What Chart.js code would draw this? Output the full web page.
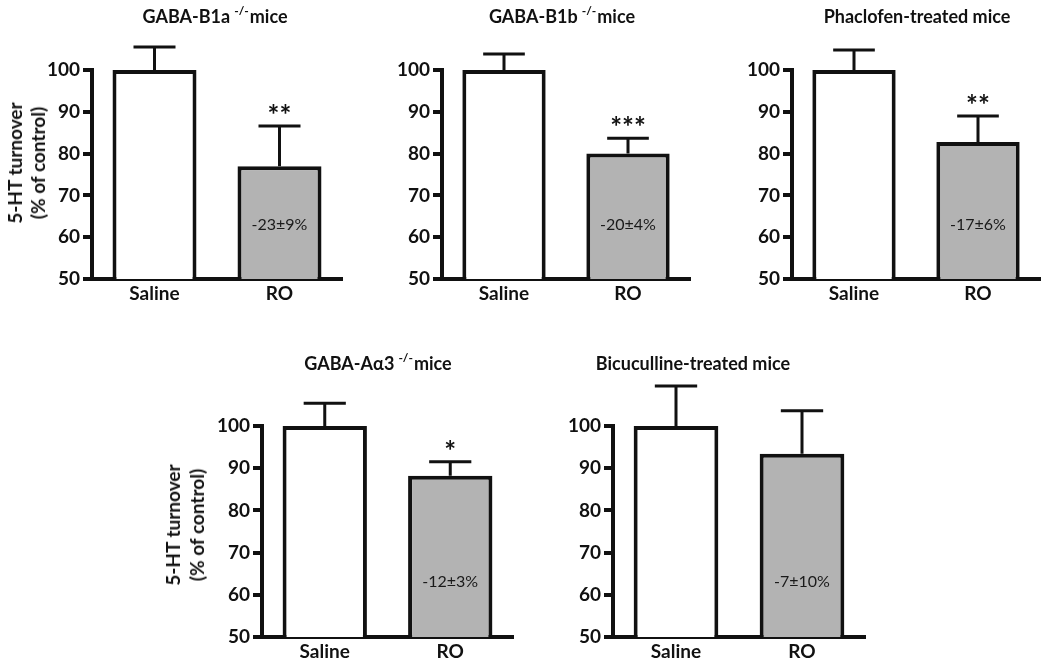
<!DOCTYPE html>
<html>
<head>
<meta charset="utf-8">
<script src="https://cdn.jsdelivr.net/npm/chart.js@4.4.1/dist/chart.umd.min.js"></script>
<style>
  html, body { margin:0; padding:0; background:#fff; }
  #fig { position:relative; width:1050px; height:664px; background:#fff; font-family:Lato, 'Open Sans', sans-serif; color:#111; }
  .panel { position:absolute; }
  .title { position:absolute; transform:translate(-50%,-50%); font-weight:bold; font-size:18px; white-space:nowrap; }
  .title sup { font-size:12px; vertical-align:0; position:relative; top:-8px; margin:0 1px 0 4px; }
  .ylab { position:absolute; transform:translate(-50%,-50%) rotate(-90deg); font-weight:bold; font-size:19px; text-align:center; white-space:nowrap; }
</style>
</head>
<body>
<div id="fig"></div>
<script>
// ---- data ----
const groups = ['Saline', 'RO'];
const titleMain = ['GABA-B1a', 'GABA-B1b', 'Phaclofen-treated mice', 'GABA-A\u03b13', 'Bicuculline-treated mice'];
const titleSup = ['-/-', '-/-', '', '-/-', ''];
const titleTail = ['mice', 'mice', '', 'mice', ''];
const salineMean = [100, 100, 100, 100, 100];
const salineSem = [5.5, 3.8, 4.8, 5.4, 9.5];
const roMean = [77, 80, 82.8, 88.2, 93.4];
const roSem = [9.6, 3.7, 6.2, 3.3, 10.2];
const stars = ['**', '***', '**', '*', ''];
const changeText = ['-23\u00b19%', '-20\u00b14%', '-17\u00b16%', '-12\u00b13%', '-7\u00b110%'];
const yLabelLines = ['5-HT turnover', '(% of control)'];

// ---- layout (canvas boxes) ----
const layout = [
  {left:0,   top:0,   w:350, h:310, padTop:70, padRight:8,  xH:31, titleX:215, titleY:16,  ylab:{x:26, y:163, lh:23}},
  {left:350, top:0,   w:350, h:310, padTop:70, padRight:10, xH:31, titleX:562, titleY:16},
  {left:700, top:0,   w:350, h:310, padTop:70, padRight:10, xH:31, titleX:917, titleY:16},
  {left:170, top:360, w:350, h:304, padTop:66, padRight:7,  xH:27, titleX:378, titleY:363, ylab:{x:185, y:525, lh:24}},
  {left:521, top:360, w:350, h:304, padTop:66, padRight:6,  xH:27, titleX:693, titleY:363}
];

const ink = '#111';
const tickFont = {family:'Lato', size:19, weight:'bold'};

// error bars, significance stars and % change text
const annotate = {
  id: 'annotate',
  afterDatasetsDraw(chart, args, opts){
    const ctx = chart.ctx;
    const y = chart.scales.y;
    const bars = chart.getDatasetMeta(0).data;
    const means = chart.data.datasets[0].data;
    ctx.save();
    ctx.strokeStyle = ink;
    ctx.lineWidth = 3;
    bars.forEach((bar, j) => {
      const top = y.getPixelForValue(means[j]);
      const tip = y.getPixelForValue(means[j] + opts.sem[j]);
      const half = bar.width / 4;
      ctx.beginPath();
      ctx.moveTo(bar.x, top); ctx.lineTo(bar.x, tip);
      ctx.moveTo(bar.x - half, tip); ctx.lineTo(bar.x + half, tip);
      ctx.stroke();
    });
    const ro = bars[1];
    const roTip = y.getPixelForValue(means[1] + opts.sem[1]);
    ctx.fillStyle = ink;
    ctx.textAlign = 'center';
    if(opts.stars){
      ctx.font = 'bold 28px Lato';
      ctx.textBaseline = 'alphabetic';
      ctx.fillText(opts.stars, ro.x, roTip - 1);
    }
    ctx.font = '16px Lato';
    ctx.fillStyle = '#1a1a1a';
    ctx.textBaseline = 'middle';
    ctx.fillText(opts.change, ro.x, y.getPixelForValue(63));
    ctx.restore();
  }
};

const fig = document.getElementById('fig');

layout.forEach((p, i) => {
  const box = document.createElement('div');
  box.className = 'panel';
  box.style.left = p.left + 'px';
  box.style.top = p.top + 'px';
  const cv = document.createElement('canvas');
  cv.width = p.w; cv.height = p.h;
  cv.style.width = p.w + 'px'; cv.style.height = p.h + 'px';
  box.appendChild(cv);
  fig.appendChild(box);

  const t = document.createElement('div');
  t.className = 'title';
  t.style.left = p.titleX + 'px';
  t.style.top = p.titleY + 'px';
  t.innerHTML = titleMain[i] + (titleSup[i] ? '<sup>' + titleSup[i] + '</sup>' + titleTail[i] : '');
  fig.appendChild(t);

  if(p.ylab){
    const yl = document.createElement('div');
    yl.className = 'ylab';
    yl.style.left = p.ylab.x + 'px';
    yl.style.top = p.ylab.y + 'px';
    yl.style.lineHeight = p.ylab.lh + 'px';
    yl.innerHTML = yLabelLines.join('<br>');
    fig.appendChild(yl);
  }

  new Chart(cv.getContext('2d'), {
    type: 'bar',
    data: {
      labels: groups,
      datasets: [{
        data: [salineMean[i], roMean[i]],
        backgroundColor: ['#ffffff', '#b3b3b3'],
        borderColor: ink,
        borderWidth: 4,
        borderSkipped: false,
        barPercentage: 0.672,
        categoryPercentage: 1
      }]
    },
    options: {
      responsive: false,
      animation: false,
      layout: { padding: { top: p.padTop, right: p.padRight, left: 0, bottom: 0 } },
      plugins: {
        legend: { display: false },
        tooltip: { enabled: false },
        annotate: { sem: [salineSem[i], roSem[i]], stars: stars[i], change: changeText[i] }
      },
      scales: {
        x: {
          grid: { display: false, drawTicks: false },
          border: { display: true, width: 4, color: ink },
          ticks: { color: ink, font: tickFont, padding: 3 },
          afterFit(s){ s.height = p.xH; }
        },
        y: {
          min: 50, max: 100,
          ticks: { stepSize: 10, color: ink, font: tickFont, padding: 3 },
          grid: { drawOnChartArea: false, drawTicks: true, tickLength: 9, lineWidth: 4, color: ink },
          border: { width: 4, color: ink },
          afterFit(s){ s.width = 92; }
        }
      }
    },
    plugins: [annotate]
  });
});
</script>
</body>
</html>
